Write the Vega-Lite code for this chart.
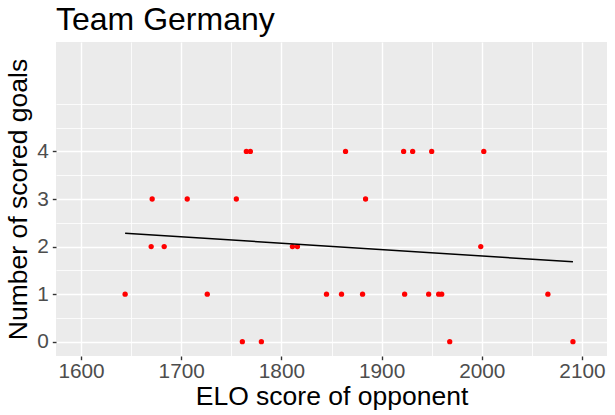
{
  "$schema": "https://vega.github.io/schema/vega-lite/v6.json",
  "autosize": {"type": "none"},
  "padding": {"left": 56, "top": 42, "right": 8, "bottom": 59},
  "width": 551,
  "height": 314,
  "background": "white",
  "title": {
    "text": "Team Germany",
    "anchor": "start",
    "frame": "group",
    "baseline": "alphabetic",
    "offset": -20,
    "font": "Liberation Sans",
    "fontSize": 32,
    "fontWeight": "normal",
    "color": "black"
  },
  "config": {
    "view": {"fill": "#EBEBEB", "stroke": null},
    "axis": {
      "labelFont": "Liberation Sans",
      "titleFont": "Liberation Sans",
      "labelFontSize": 20.8,
      "titleFontSize": 26.5,
      "labelColor": "#4D4D4D",
      "titleColor": "black",
      "titleFontWeight": "normal",
      "gridColor": "white",
      "gridOpacity": 1,
      "tickColor": "#333333",
      "tickWidth": 1.4,
      "tickSize": 3.7,
      "domain": false
    }
  },
  "data": {
    "values": [
      {"elo": 1765, "goals": 4},
      {"elo": 1769, "goals": 4},
      {"elo": 1864, "goals": 4},
      {"elo": 1922, "goals": 4},
      {"elo": 1931, "goals": 4},
      {"elo": 1950, "goals": 4},
      {"elo": 2002, "goals": 4},
      {"elo": 1671, "goals": 3},
      {"elo": 1706, "goals": 3},
      {"elo": 1755, "goals": 3},
      {"elo": 1884, "goals": 3},
      {"elo": 1670, "goals": 2},
      {"elo": 1683, "goals": 2},
      {"elo": 1811, "goals": 2},
      {"elo": 1816, "goals": 2},
      {"elo": 1999, "goals": 2},
      {"elo": 1644, "goals": 1},
      {"elo": 1726, "goals": 1},
      {"elo": 1845, "goals": 1},
      {"elo": 1860, "goals": 1},
      {"elo": 1881, "goals": 1},
      {"elo": 1923, "goals": 1},
      {"elo": 1947, "goals": 1},
      {"elo": 1957, "goals": 1},
      {"elo": 1960, "goals": 1},
      {"elo": 2066, "goals": 1},
      {"elo": 1761, "goals": 0},
      {"elo": 1780, "goals": 0},
      {"elo": 1968, "goals": 0},
      {"elo": 2091, "goals": 0}
    ]
  },
  "layer": [
    {
      "mark": {"type": "point", "filled": true, "opacity": 0},
      "encoding": {
        "x": {
          "field": "elo",
          "type": "quantitative",
          "scale": {"domain": [1575, 2125], "nice": false, "zero": false},
          "axis": {
            "values": [1650, 1750, 1850, 1950, 2050],
            "grid": true,
            "gridWidth": 0.8,
            "labels": false,
            "ticks": false,
            "title": null,
            "orient": "bottom"
          }
        },
        "y": {
          "field": "goals",
          "type": "quantitative",
          "scale": {"domain": [-0.3, 6.3], "nice": false, "zero": false},
          "axis": {
            "values": [0.5, 1.5, 2.5, 3.5, 4.5, 5],
            "grid": true,
            "gridWidth": 0.8,
            "labels": false,
            "ticks": false,
            "title": null,
            "orient": "left"
          }
        }
      }
    },
    {
      "mark": {"type": "circle", "color": "#FF0000", "opacity": 1, "size": 28},
      "encoding": {
        "x": {
          "field": "elo",
          "type": "quantitative",
          "scale": {"domain": [1575, 2125], "nice": false, "zero": false},
          "axis": {
            "values": [1600, 1700, 1800, 1900, 2000, 2100],
            "format": "d",
            "grid": true,
            "gridWidth": 1.4,
            "labelPadding": 2,
            "titlePadding": 2,
            "title": "ELO score of opponent",
            "orient": "bottom"
          }
        },
        "y": {
          "field": "goals",
          "type": "quantitative",
          "scale": {"domain": [-0.3, 6.3], "nice": false, "zero": false},
          "axis": {
            "values": [0, 1, 2, 3, 4],
            "format": "d",
            "grid": true,
            "gridWidth": 1.4,
            "labelPadding": 4,
            "titlePadding": 4,
            "title": "Number of scored goals",
            "orient": "left"
          }
        }
      }
    },
    {
      "transform": [{"regression": "goals", "on": "elo"}],
      "mark": {"type": "line", "color": "black", "strokeWidth": 1.5},
      "encoding": {
        "x": {
          "field": "elo",
          "type": "quantitative",
          "scale": {"domain": [1575, 2125], "nice": false, "zero": false},
          "axis": null
        },
        "y": {
          "field": "goals",
          "type": "quantitative",
          "scale": {"domain": [-0.3, 6.3], "nice": false, "zero": false},
          "axis": null
        }
      }
    }
  ],
  "resolve": {
    "scale": {"x": "independent", "y": "independent"},
    "axis": {"x": "independent", "y": "independent"}
  }
}
